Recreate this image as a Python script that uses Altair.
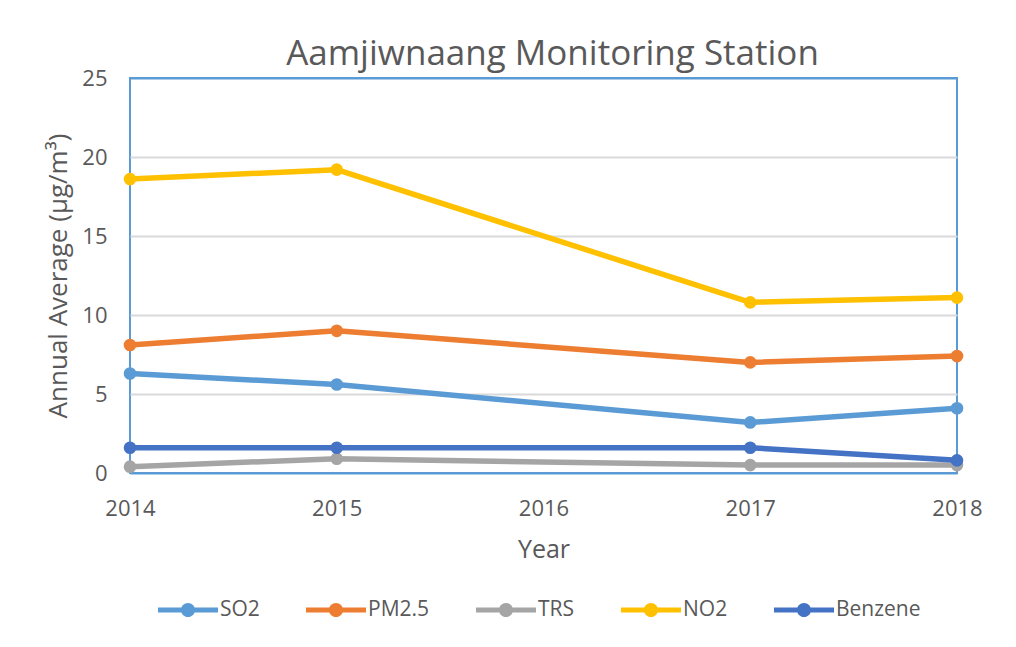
import altair as alt
import pandas as pd

# ---- data ----
years = [2014, 2015, 2017, 2018]
series_names = ["SO2", "PM2.5", "TRS", "NO2", "Benzene"]
so2 = [6.3, 5.6, 3.2, 4.1]
pm25 = [8.1, 9.0, 7.0, 7.4]
trs = [0.4, 0.9, 0.5, 0.5]
no2 = [18.6, 19.2, 10.8, 11.1]
benzene = [1.6, 1.6, 1.6, 0.8]
colors = ["#5B9BD5", "#ED7D31", "#A5A5A5", "#FFC000", "#4472C4"]
x_ticks = [2014, 2015, 2016, 2017, 2018]
y_ticks = [0, 5, 10, 15, 20, 25]

all_values = [so2, pm25, trs, no2, benzene]
rows = []
for name, vals in zip(series_names, all_values):
    for yr, v in zip(years, vals):
        rows.append({"series": name, "year": yr, "value": v})
df = pd.DataFrame(rows)

TEXT = "#595959"
FONT = "Open Sans"
FRAME = "#5B9BD5"

x_enc = alt.X(
    "year:Q",
    scale=alt.Scale(domain=[2014, 2018], nice=False, zero=False),
    axis=alt.Axis(
        values=x_ticks, format="d", title="Year", grid=False, labelFlush=False,
        labelFontSize=22, labelBaseline="alphabetic", labelPadding=42,
        titleFontSize=25, titleY=84, titleBaseline="alphabetic",
    ),
)
y_enc = alt.Y(
    "value:Q",
    scale=alt.Scale(domain=[0, 25], nice=False),
    axis=alt.Axis(
        values=y_ticks, title="Annual Average  (μg/m³)", labelFlush=False,
        labelFontSize=22, labelPadding=23,
        gridColor={
            "condition": {"test": "datum.value == 0 || datum.value == 25", "value": FRAME},
            "value": "#D9D9D9",
        },
        titleFontSize=26, titleX=-64, titleY=197.5,
        titleBaseline="alphabetic", titleAlign="center",
    ),
)

legend_symbol = (
    "M-1,-0.085 L1,-0.085 L1,0.085 L-1,0.085 Z "
    "M0.235,0 A0.235,0.235 0 1,1 -0.235,0 A0.235,0.235 0 1,1 0.235,0 Z"
)

legend = alt.Legend(
    title=None, orient="none", legendX=28, legendY=502, direction="horizontal",
    symbolType=legend_symbol, symbolSize=3600, symbolStrokeWidth=0,
    labelFont=FONT, labelFontSize=21, labelColor=TEXT, labelOffset=2,
    columnPadding=46, padding=0, labelLimit=300,
)
color_enc = alt.Color(
    "series:N", scale=alt.Scale(domain=series_names, range=colors), legend=legend
)

layers = []
for name in series_names:
    base = alt.Chart(df).transform_filter(alt.datum.series == name)
    line = base.mark_line(strokeWidth=5.5, strokeJoin="round", strokeCap="round").encode(
        x=x_enc, y=y_enc, color=color_enc,
    )
    pts = base.mark_circle(size=160, opacity=1).encode(
        x=x_enc, y=y_enc, color=color_enc,
    )
    layers += [line, pts]

chart = (
    alt.layer(*layers)
    .properties(
        width=827,
        height=395,
        autosize=alt.AutoSizeParams(type="none"),
        padding={"left": 122, "top": 70, "right": 51, "bottom": 166},
        background="white",
        title=alt.TitleParams(
            "Aamjiwnaang Monitoring Station", font=FONT, fontSize=35,
            fontWeight="normal", color=TEXT, anchor="middle",
            baseline="alphabetic", offset=12, dx=9, dy=45,
        ),
    )
    .configure_view(stroke=FRAME, strokeWidth=2)
    .configure_axis(
        labelFont=FONT, titleFont=FONT, labelColor=TEXT, titleColor=TEXT,
        titleFontWeight="normal", domain=False, ticks=False, tickSize=0,
        gridWidth=2,
    )
)

chart.save("out.html", embed_options={"renderer": "svg", "actions": False})
